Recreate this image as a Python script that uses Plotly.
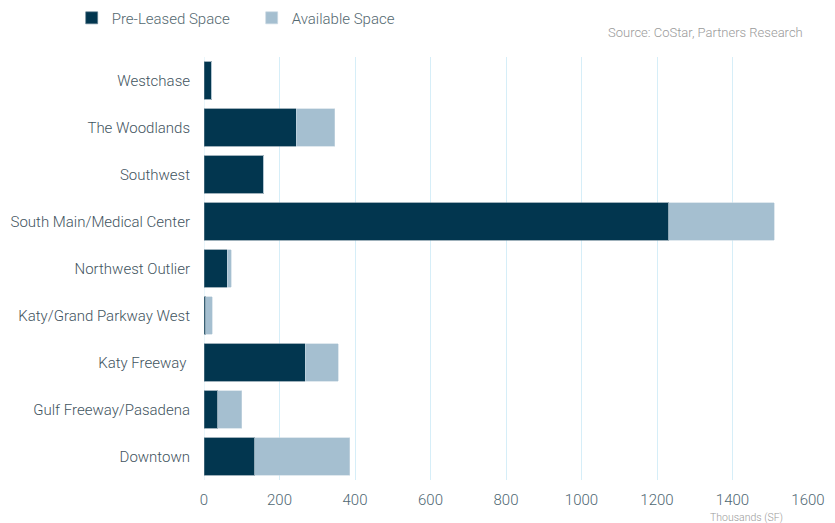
import plotly.graph_objects as go

categories = ["Westchase", "The Woodlands", "Southwest", "South Main/Medical Center",
              "Northwest Outlier", "Katy/Grand Parkway West", "Katy Freeway ",
              "Gulf Freeway/Pasadena", "Downtown"]
pre_leased = [20, 245, 158, 1231, 61, 5, 268, 37, 134]
available = [0, 102, 0, 279, 11, 17, 87, 63, 252]
x_ticks = [0, 200, 400, 600, 800, 1000, 1200, 1400, 1600]

FONT = "Roboto"
fig = go.Figure()
fig.add_trace(go.Bar(y=categories, x=pre_leased, orientation="h", name="Pre-Leased Space",
                     marker=dict(color="#02364f", line=dict(color="#5f7d8e", width=0.6))))
fig.add_trace(go.Bar(y=categories, x=available, orientation="h", name="Available Space",
                     marker=dict(color="#a5bfd0", line=dict(color="#c9d9e3", width=0.6))))

fig.update_layout(
    width=827, height=515,
    barmode="stack", bargap=0.2,
    plot_bgcolor="white", paper_bgcolor="white",
    margin=dict(l=196, r=27, t=49, b=43, autoexpand=False),
    font=dict(family=FONT, size=14, color="#4a5f6b", weight=300),
    showlegend=True,
    legend=dict(orientation="h", xref="container", yref="paper",
                x=0.077, y=1.092, xanchor="left", yanchor="middle",
                font=dict(size=15, color="#53686f", weight=300),
                itemwidth=30, entrywidth=135, traceorder="normal"),
    xaxis=dict(range=[0, 1600], tickvals=x_ticks, showgrid=True, gridcolor="#d6eef8",
               gridwidth=1, zeroline=False, showline=False, automargin=False,
               ticks="outside", ticklen=6, tickcolor="rgba(0,0,0,0)",
               tickfont=dict(size=15, color="#4f6873", weight=300)),
    yaxis=dict(autorange="reversed", showgrid=False, zeroline=False, showline=False,
               ticks="outside", ticklen=10, tickcolor="rgba(0,0,0,0)", automargin=False,
               tickfont=dict(size=15, color="#3f5460", weight=300)),
    annotations=[
        dict(text="Source: CoStar, Partners Research", xref="paper", yref="paper",
             x=0.995, y=1.057, xanchor="right", yanchor="middle", showarrow=False,
             font=dict(size=13, color="#9a9a9a", weight=300)),
        dict(text="Thousands (SF)", xref="paper", yref="paper",
             x=0.962, y=-0.089, xanchor="right", yanchor="middle", showarrow=False,
             font=dict(size=10.5, color="#9a9a9a", weight=300)),
    ],
)
fig.add_shape(type="line", xref="x", yref="paper", x0=0, x1=0, y0=0, y1=1,
              line=dict(color="#d6eef8", width=1), layer="below")

fig.write_html("out.html")
